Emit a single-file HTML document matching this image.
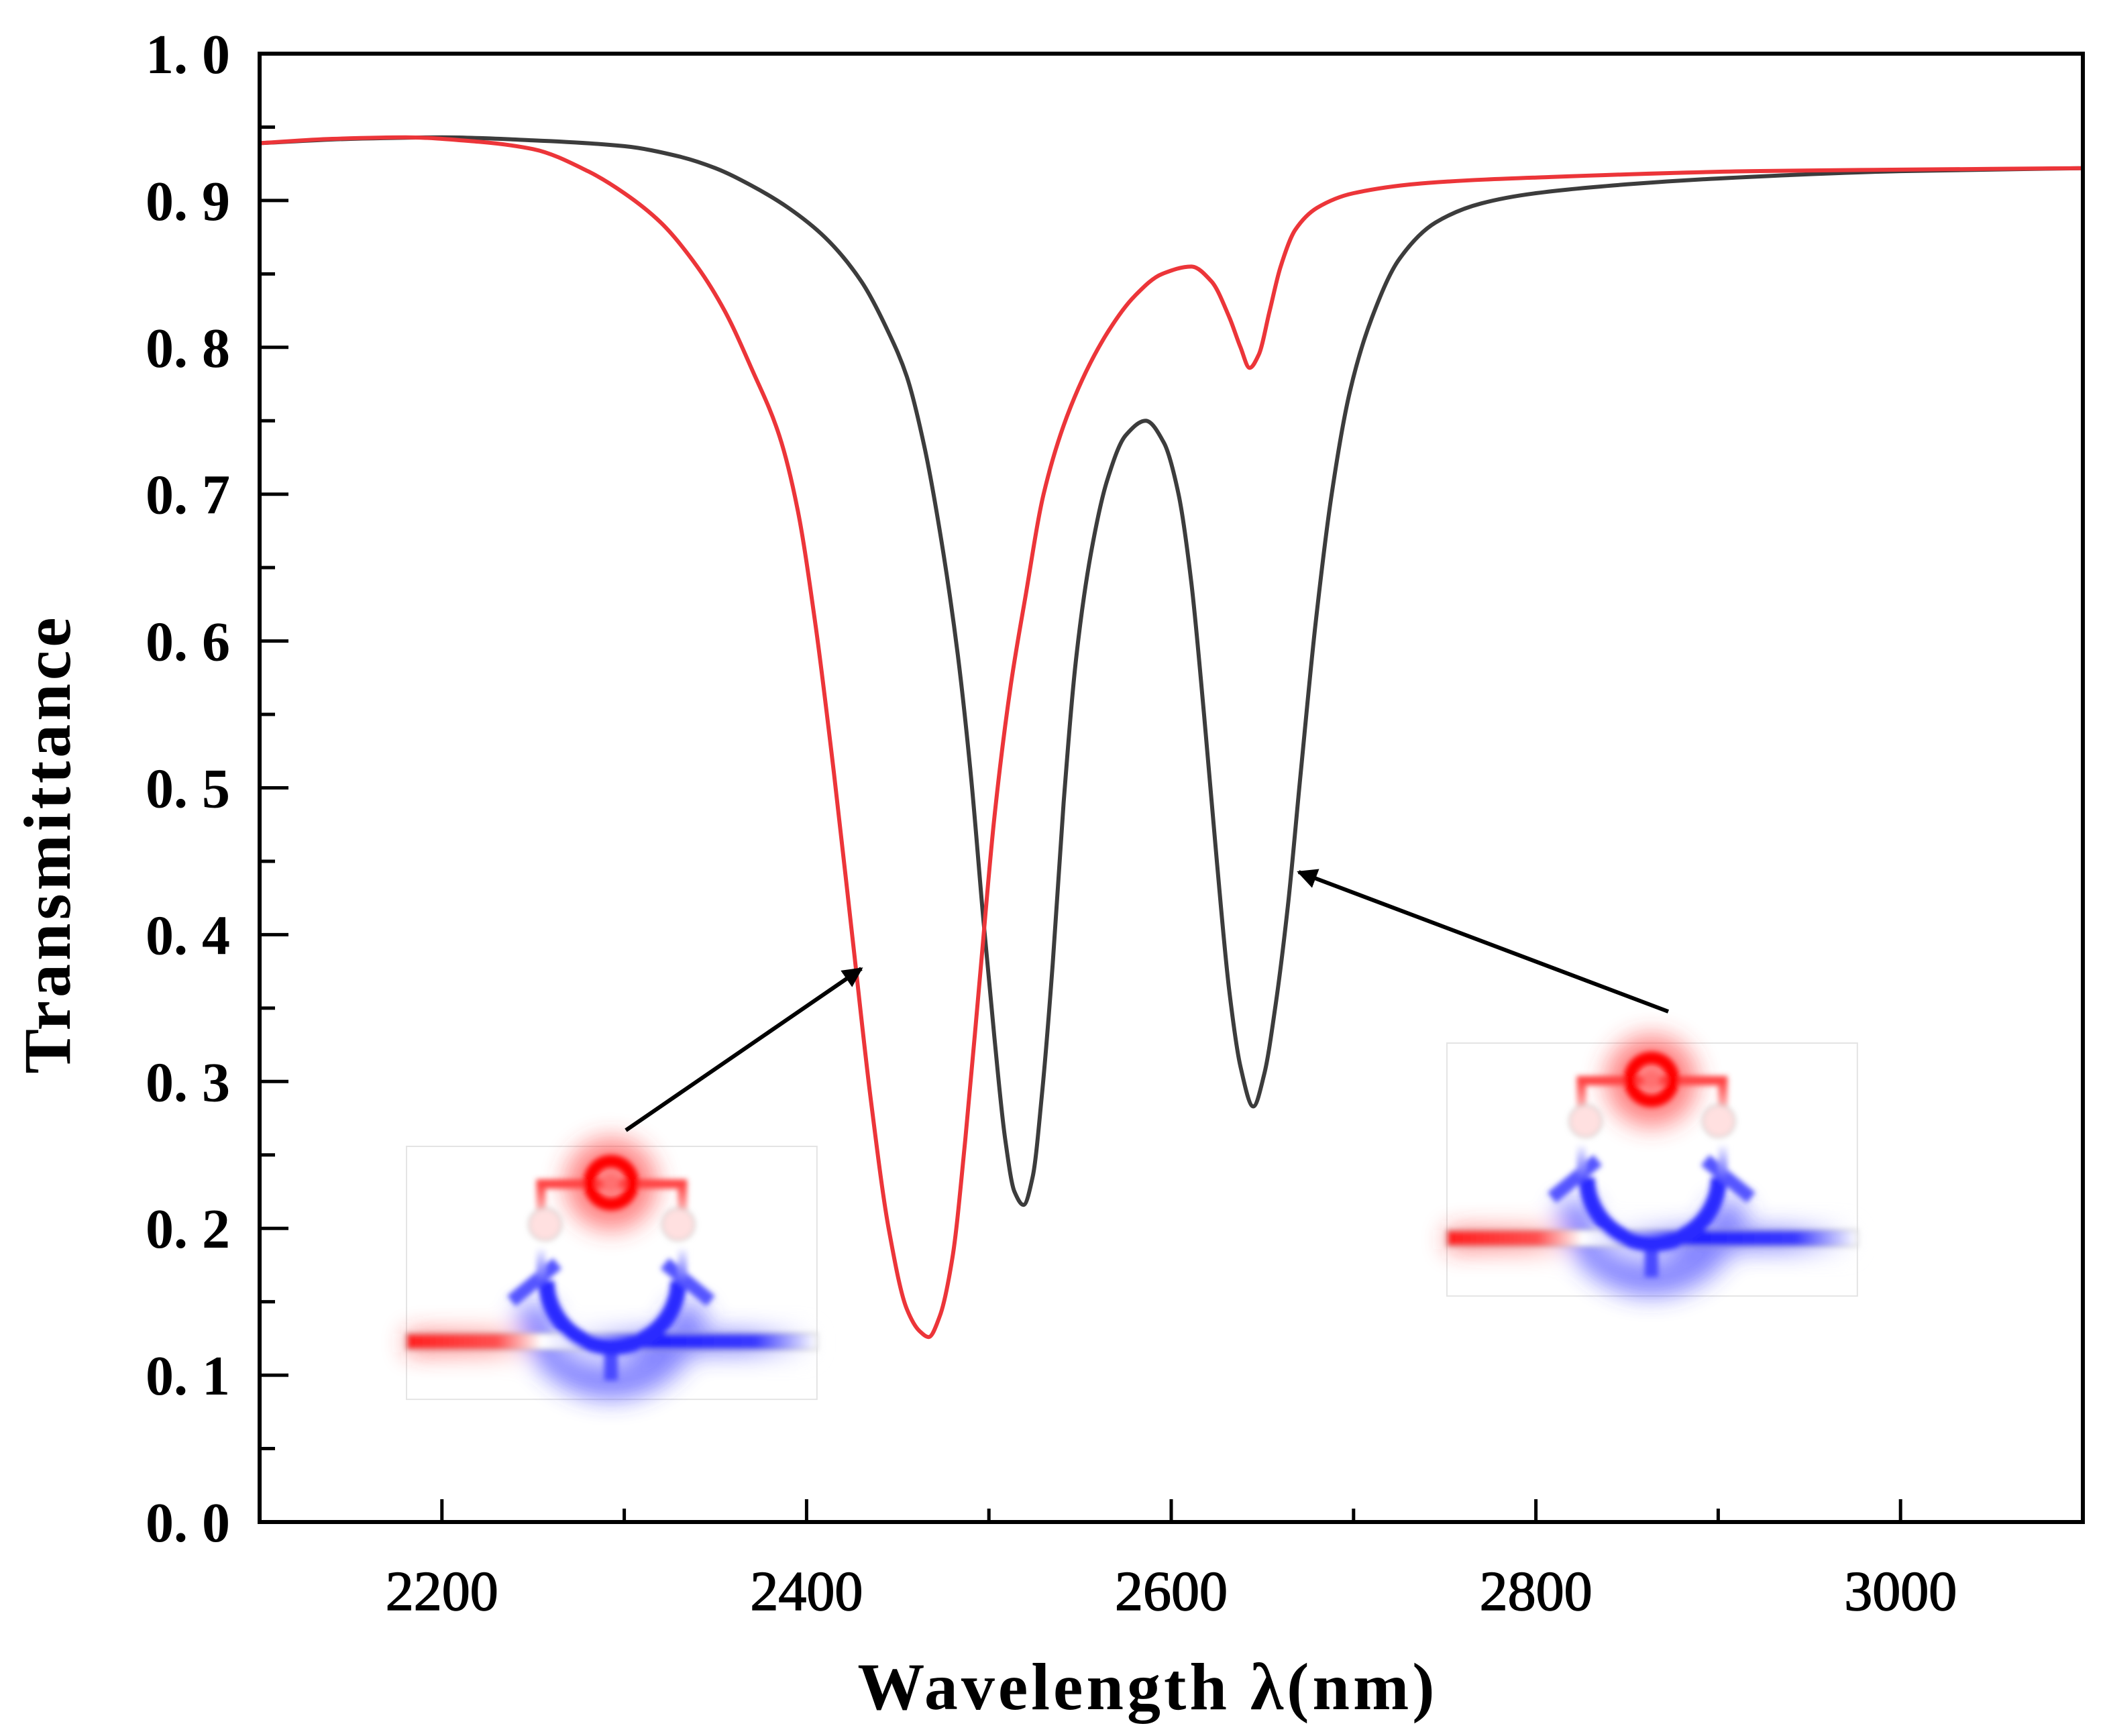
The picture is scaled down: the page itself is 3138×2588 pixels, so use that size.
<!DOCTYPE html>
<html><head><meta charset="utf-8"><style>
html,body{margin:0;padding:0;background:#fff}
svg{display:block}
text{font-family:"Liberation Serif",serif;fill:#000}
</style></head><body>
<svg id="chart" width="3138" height="2588" viewBox="0 0 3138 2588" xmlns="http://www.w3.org/2000/svg">
<defs>
<filter id="glow" x="-30%" y="-30%" width="160%" height="160%"><feGaussianBlur stdDeviation="9"/></filter>
<filter id="soft" x="-10%" y="-10%" width="120%" height="120%"><feGaussianBlur stdDeviation="2"/></filter>
<linearGradient id="busL" x1="0" x2="1" y1="0" y2="0">
<stop offset="0" stop-color="#ff2020"/><stop offset="0.22" stop-color="#ff5050"/><stop offset="0.33" stop-color="#fff"/><stop offset="0.45" stop-color="#c8c8ff"/><stop offset="0.6" stop-color="#2020ff"/><stop offset="0.85" stop-color="#3a3aff"/><stop offset="1" stop-color="#fff"/>
</linearGradient>
<linearGradient id="legs" x1="0" x2="0" y1="0" y2="1">
<stop offset="0" stop-color="#ff4040"/><stop offset="0.45" stop-color="#fff"/><stop offset="0.65" stop-color="#fff"/><stop offset="1" stop-color="#5a5aff"/>
</linearGradient>
<marker id="arrow" viewBox="0 0 10 10" refX="9" refY="5" markerWidth="5" markerHeight="5" orient="auto"><path d="M0,0 L10,5 L0,10 z" fill="#000"/></marker>
<g id="inset">
<rect x="0" y="0" width="305" height="188" fill="#fff" stroke="#e4e4e4" stroke-width="1"/>
<g filter="url(#glow)" opacity="0.6">
<circle cx="152" cy="28" r="34" fill="#ff3030"/>
<rect x="0" y="138" width="300" height="16" fill="url(#busL)"/>
<path d="M95,118 A57,57 0 0 0 209,118" fill="none" stroke="#3030ff" stroke-width="26"/>
</g>
<g filter="url(#soft)">
<rect x="0" y="139" width="305" height="12" fill="url(#busL)" stroke="#aaa" stroke-width="0.8"/>
<rect x="147" y="150" width="10" height="24" fill="#4a4aff"/>
<path d="M104,100 A49,49 0 0 0 202,100" fill="none" stroke="#2a2aff" stroke-width="12"/>
<line x1="78" y1="115" x2="112" y2="87" stroke="#5555ff" stroke-width="10"/>
<line x1="226" y1="115" x2="192" y2="87" stroke="#5555ff" stroke-width="10"/>
<path d="M100,100 V28 H205 V100" fill="none" stroke="url(#legs)" stroke-width="7"/>
<circle cx="103" cy="58" r="12" fill="#ffe0e0" stroke="#bbb" stroke-width="1"/>
<circle cx="202" cy="58" r="12" fill="#ffe0e0" stroke="#bbb" stroke-width="1"/>
<circle cx="152" cy="27" r="16" fill="none" stroke="#ff0000" stroke-width="9"/>
<circle cx="152" cy="27" r="6" fill="#ff7070"/>
</g>
</g>
</defs>
<g id="plot"></g>
<text x="1711" y="2548" font-size="100" font-weight="bold" letter-spacing="5" text-anchor="middle">Wavelength λ(nm)</text>
<text transform="translate(104,1258) rotate(-90)" font-size="100" font-weight="bold" letter-spacing="5" text-anchor="middle">Transmittance</text>
<use href="#inset" transform="translate(606,1709) scale(2.006)"/>
<use href="#inset" transform="translate(2157,1555) scale(2.006)"/>
<line x1="933" y1="1685" x2="1284" y2="1444" stroke="#000" stroke-width="6" marker-end="url(#arrow)"/>
<line x1="2487" y1="1508" x2="1936" y2="1300" stroke="#000" stroke-width="6" marker-end="url(#arrow)"/>
</svg>
<script>
const xTicks = [2200, 2400, 2600, 2800, 3000];
const xMinor = [2100, 2300, 2500, 2700, 2900, 3100];
const yTicks = [0, 0.1, 0.2, 0.3, 0.4, 0.5, 0.6, 0.7, 0.8, 0.9, 1.0];
const yTickLabels = ["0. 0","0. 1","0. 2","0. 3","0. 4","0. 5","0. 6","0. 7","0. 8","0. 9","1. 0"];
const blackWl = [2100,2150,2200,2250,2300,2330,2350,2370,2390,2410,2430,2445,2455,2465,2475,2483,2490,2497,2503,2509,2514,2519,2524,2529,2535,2541,2548,2556,2565,2575,2586,2596,2604,2611,2618,2625,2632,2638,2645,2651,2657,2664,2671,2679,2688,2698,2710,2725,2745,2770,2800,2850,2900,3000,3100];
const blackT  = [0.939,0.942,0.943,0.941,0.937,0.93,0.922,0.91,0.895,0.875,0.845,0.81,0.78,0.73,0.66,0.59,0.51,0.41,0.33,0.26,0.225,0.216,0.235,0.29,0.38,0.49,0.59,0.66,0.71,0.74,0.75,0.735,0.70,0.64,0.55,0.45,0.36,0.31,0.283,0.305,0.35,0.42,0.51,0.61,0.70,0.77,0.82,0.86,0.885,0.898,0.905,0.911,0.915,0.92,0.922];
const redWl = [2100,2140,2180,2220,2250,2280,2300,2320,2340,2355,2370,2385,2395,2405,2415,2425,2435,2445,2455,2462,2467,2473,2480,2487,2495,2503,2512,2520,2530,2545,2565,2580,2595,2611,2622,2632,2638,2643,2648,2654,2660,2668,2680,2700,2741,2808,2919,3000,3100];
const redT  = [0.939,0.942,0.943,0.94,0.935,0.92,0.905,0.885,0.855,0.825,0.785,0.74,0.69,0.61,0.51,0.40,0.29,0.20,0.145,0.13,0.126,0.14,0.18,0.26,0.37,0.48,0.57,0.63,0.70,0.76,0.81,0.835,0.85,0.855,0.845,0.82,0.80,0.786,0.795,0.825,0.855,0.88,0.895,0.905,0.912,0.916,0.92,0.921,0.922];

const L=387,R=3105,T=80,B=2269;
const xs=v=>L+(v-2100)/(3100-2100)*(R-L);
const ys=v=>B-v*(B-T);
const NS="http://www.w3.org/2000/svg";
const plot=document.getElementById('plot');
function mk(tag,attrs){const e=document.createElementNS(NS,tag);for(const k in attrs)e.setAttribute(k,attrs[k]);plot.appendChild(e);return e;}
function path(wl,t){
  const n=wl.length, x=wl.map(xs), y=t.map(ys);
  const d=[],m=new Array(n);
  for(let i=0;i<n-1;i++)d.push((y[i+1]-y[i])/(x[i+1]-x[i]));
  m[0]=d[0];m[n-1]=d[n-2];
  for(let i=1;i<n-1;i++){
    if(d[i-1]*d[i]<=0)m[i]=0;
    else{const w1=2*(x[i+1]-x[i])+(x[i]-x[i-1]),w2=(x[i+1]-x[i])+2*(x[i]-x[i-1]);
      m[i]=(w1+w2)/(w1/d[i-1]+w2/d[i]);}
  }
  let s="M"+x[0].toFixed(1)+","+y[0].toFixed(1);
  for(let i=0;i<n-1;i++){
    const h=(x[i+1]-x[i])/3;
    s+=" C"+(x[i]+h).toFixed(1)+","+(y[i]+m[i]*h).toFixed(1)+" "+(x[i+1]-h).toFixed(1)+","+(y[i+1]-m[i+1]*h).toFixed(1)+" "+x[i+1].toFixed(1)+","+y[i+1].toFixed(1);
  }
  return s;
}
const bl=mk('path',{d:path(blackWl,blackT),fill:'none',stroke:'#3c3c3c','stroke-width':6});


const rl=mk('path',{d:path(redWl,redT),fill:'none',stroke:'#ec3539','stroke-width':6});


const frame=mk('rect',{x:L,y:T,width:R-L,height:B-T,fill:'none',stroke:'#000','stroke-width':6});


xTicks.forEach(v=>{
  const tk=mk('line',{x1:xs(v),x2:xs(v),y1:B,y2:B-34,stroke:'#000','stroke-width':5});
  
  
  const t=mk('text',{x:xs(v),y:2400,'font-size':84,'text-anchor':'middle',stroke:'#000','stroke-width':1.5});
  t.textContent=v;
  
  
});
xMinor.forEach(v=>{
  const tk=mk('line',{x1:xs(v),x2:xs(v),y1:B,y2:B-20,stroke:'#000','stroke-width':5});
  
  
});
yTicks.forEach((v,i)=>{
  const tk=mk('line',{x1:L,x2:L+43,y1:ys(v),y2:ys(v),stroke:'#000','stroke-width':5});
  
  
  if(i<yTicks.length-1){
    const mt=mk('line',{x1:L,x2:L+23,y1:ys(v+0.05),y2:ys(v+0.05),stroke:'#000','stroke-width':5});
    
    
  }
  const t=mk('text',{x:343,y:ys(v)+29,'font-size':84,'font-weight':'bold','text-anchor':'end'});
  t.textContent=yTickLabels[i];
  
  
});
</script>
</body></html>
